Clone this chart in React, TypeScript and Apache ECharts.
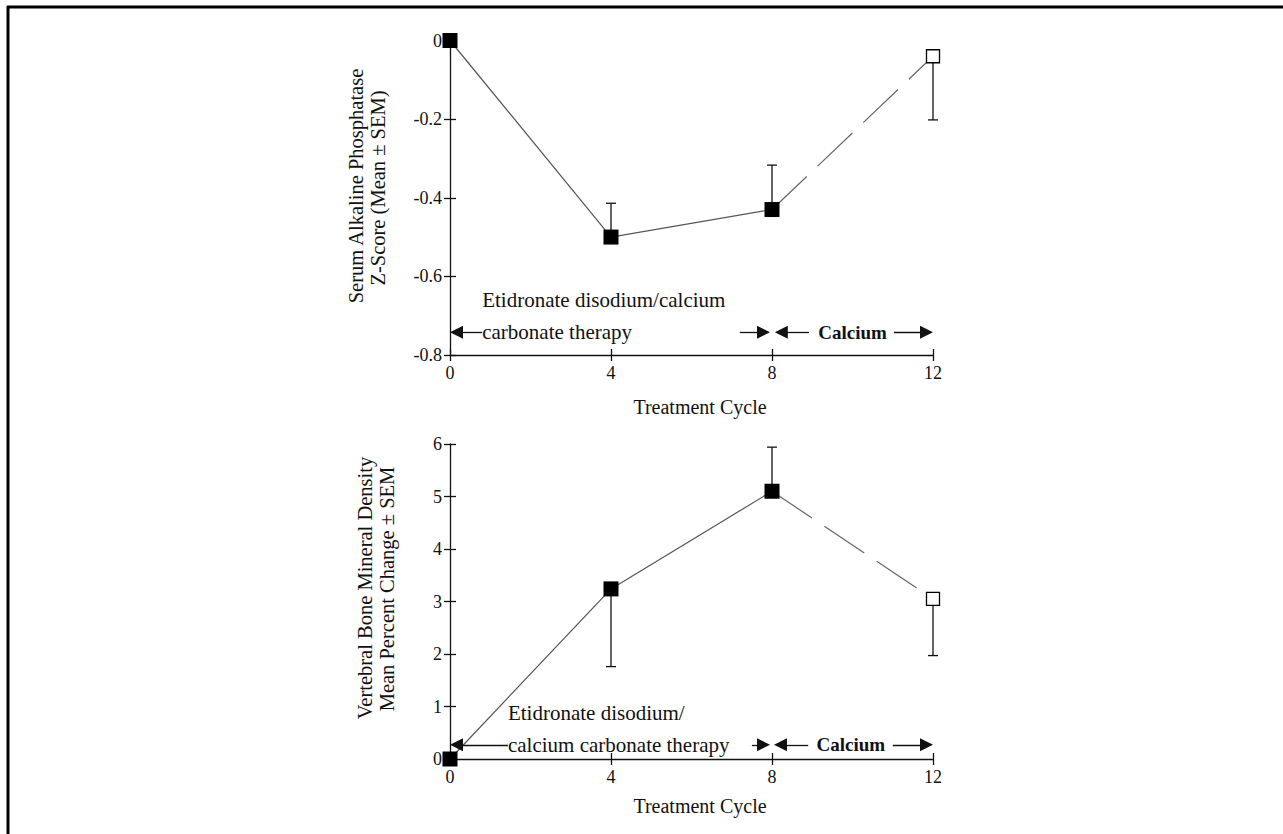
import React, { useEffect, useRef } from "react";
import * as echarts from "echarts";

// ---- data ----
const cycles = [0, 4, 8, 12];
const alpMean = [0, -0.5, -0.43, -0.04];
const alpErrEnd = [null, -0.414, -0.317, -0.202];
const bmdMean = [0, 3.24, 5.1, 3.05];
const bmdErrEnd = [null, 1.76, 5.94, 1.97];

const xTitle = "Treatment Cycle";
const alpTitle = ["Serum Alkaline Phosphatase", "Z-Score (Mean \u00b1 SEM)"];
const bmdTitle = ["Vertebral Bone Mineral Density", "Mean Percent Change \u00b1 SEM"];

// annotation arrows: [tailX, tipX] at a given y (data units)
const alpArrowY = -0.742;
const alpArrows = [[0.8, 0], [7.2, 7.95], [8.92, 8.07], [11.03, 12]];
const bmdArrowY = 0.27;
const bmdArrows = [[1.44, 0], [7.5, 7.95], [8.9, 8.05], [11.0, 12]];
const alpNotes = [
  { text: "Etidronate disodium/calcium", x: 0.8, y: -0.66, bold: false, align: "left" },
  { text: "carbonate therapy", x: 0.8, y: -0.742, bold: false, align: "left" },
  { text: "Calcium", x: 10.0, y: -0.742, bold: true, align: "center" },
];
const bmdNotes = [
  { text: "Etidronate disodium/", x: 1.44, y: 0.876, bold: false, align: "left" },
  { text: "calcium carbonate therapy", x: 1.44, y: 0.27, bold: false, align: "left" },
  { text: "Calcium", x: 9.96, y: 0.27, bold: true, align: "center" },
];

const FONT = "'Liberation Serif', 'Times New Roman', serif";
const INK = "#111";
const GRID_W = 483;
const X_SPAN = 12;
const HEAD = 13;

function xAxes(gridIndex: number) {
  const base = {
    type: "value",
    gridIndex,
    min: 0,
    max: 12,
    interval: 4,
    position: "bottom",
    splitLine: { show: false },
  };
  return [
    {
      ...base,
      axisLine: { show: true, onZero: false, lineStyle: { color: INK, width: 1.3 } },
      axisTick: { show: true, length: 6, lineStyle: { color: INK, width: 1.3 } },
      axisLabel: { color: INK, fontFamily: FONT, fontSize: 18, margin: 9 },
    },
    {
      ...base,
      axisLine: { show: false, onZero: false },
      axisTick: { show: true, inside: true, length: 6, lineStyle: { color: INK, width: 1.3 } },
      axisLabel: { show: false },
    },
  ];
}

function yAxes(gridIndex: number, min: number, max: number, interval: number) {
  const base = {
    type: "value",
    gridIndex,
    min,
    max,
    interval,
    position: "left",
    splitLine: { show: false },
  };
  return [
    {
      ...base,
      axisLine: { show: true, onZero: false, lineStyle: { color: INK, width: 1.3 } },
      axisTick: { show: true, length: 6, lineStyle: { color: INK, width: 1.3 } },
      axisLabel: { color: INK, fontFamily: FONT, fontSize: 18, margin: 8 },
    },
    {
      ...base,
      axisLine: { show: false, onZero: false },
      axisTick: { show: true, inside: true, length: 6, lineStyle: { color: INK, width: 1.3 } },
      axisLabel: { show: false },
    },
  ];
}

function seriesFor(
  xi: number,
  yi: number,
  mean: number[],
  errEnd: (number | null)[],
  arrowY: number,
  arrows: number[][]
) {
  const pts = cycles.map((c, i) => [c, mean[i]]);
  const errData = cycles
    .map((c, i) => (errEnd[i] == null ? null : [c, mean[i], errEnd[i]]))
    .filter((d) => d !== null);
  // the arrowhead symbol is centred on the line end: pull the end back by half a head
  const half = (HEAD / 2) * (X_SPAN / GRID_W);
  return [
    {
      type: "custom",
      xAxisIndex: xi,
      yAxisIndex: yi,
      clip: false,
      z: 1,
      data: errData,
      encode: { x: 0, y: [1, 2] },
      renderItem: (params: any, api: any) => {
        const x = api.value(0);
        const p0 = api.coord([x, api.value(1)]);
        const p1 = api.coord([x, api.value(2)]);
        const st = { stroke: INK, lineWidth: 1.3 };
        return {
          type: "group",
          children: [
            { type: "line", shape: { x1: p0[0], y1: p0[1], x2: p1[0], y2: p1[1] }, style: st },
            { type: "line", shape: { x1: p1[0] - 5, y1: p1[1], x2: p1[0] + 5, y2: p1[1] }, style: st },
          ],
        };
      },
    },
    {
      type: "line",
      xAxisIndex: xi,
      yAxisIndex: yi,
      clip: false,
      z: 2,
      data: pts.slice(0, 3),
      showSymbol: false,
      symbol: "none",
      lineStyle: { color: "#555", width: 1.2 },
      silent: true,
      markLine: {
        silent: true,
        symbol: ["none", "triangle"],
        symbolSize: HEAD,
        label: { show: false },
        lineStyle: { color: INK, width: 1.3, type: "solid" },
        emphasis: { disabled: true },
        data: arrows.map((a) => {
          const dir = a[1] > a[0] ? 1 : -1;
          return [
            { coord: [a[0], arrowY] },
            { coord: [a[1] - dir * half, arrowY] },
          ];
        }),
      },
    },
    {
      type: "line",
      xAxisIndex: xi,
      yAxisIndex: yi,
      clip: false,
      z: 2,
      data: pts.slice(2, 4),
      showSymbol: false,
      symbol: "none",
      lineStyle: { color: "#666", width: 1.2, type: [48, 15] },
      silent: true,
    },
    {
      type: "scatter",
      xAxisIndex: xi,
      yAxisIndex: yi,
      clip: false,
      z: 3,
      data: pts.slice(0, 3),
      symbol: "rect",
      symbolSize: 15,
      itemStyle: { color: "#000", opacity: 1 },
      silent: true,
    },
    {
      type: "scatter",
      xAxisIndex: xi,
      yAxisIndex: yi,
      clip: false,
      z: 3,
      data: pts.slice(3, 4),
      symbol: "rect",
      symbolSize: 13,
      itemStyle: { color: "#fff", borderColor: "#000", borderWidth: 1.3, opacity: 1 },
      silent: true,
    },
  ];
}

export default function App() {
  const ref = useRef<HTMLDivElement>(null);
  useEffect(() => {
    document.body.style.margin = "0";
    const chart = echarts.init(ref.current!, null, { renderer: "svg" });
    const option: any = {
      animation: false,
      backgroundColor: "#fff",
      grid: [
        { left: 450, top: 40.5, width: GRID_W, height: 314.5 },
        { left: 450, top: 444, width: GRID_W, height: 315 },
      ],
      xAxis: [...xAxes(0), ...xAxes(1)],
      yAxis: [...yAxes(0, -0.8, 0, 0.2), ...yAxes(1, 0, 6, 1)],
      series: [
        ...seriesFor(0, 0, alpMean, alpErrEnd, alpArrowY, alpArrows),
        ...seriesFor(2, 2, bmdMean, bmdErrEnd, bmdArrowY, bmdArrows),
      ],
    };
    chart.setOption(option);

    const noteEls = (notes: any[], xi: number, yi: number) =>
      notes.map((n) => {
        const p = chart.convertToPixel({ xAxisIndex: xi, yAxisIndex: yi } as any, [n.x, n.y]) as number[];
        return {
          type: "text",
          x: p[0],
          y: p[1],
          z: 10,
          style: {
            text: n.text,
            fill: INK,
            fontFamily: FONT,
            fontSize: n.bold ? 19 : 21,
            fontWeight: n.bold ? "bold" : "normal",
            textAlign: n.align,
            textVerticalAlign: "middle",
          },
        };
      });

    const vText = (text: string, x: number, y: number) => ({
      type: "text",
      x,
      y,
      rotation: Math.PI / 2,
      style: {
        text,
        fill: INK,
        fontFamily: FONT,
        fontSize: 20.5,
        textAlign: "center",
        textVerticalAlign: "middle",
      },
    });
    const hText = (text: string, x: number, y: number) => ({
      type: "text",
      x,
      y,
      style: {
        text,
        fill: INK,
        fontFamily: FONT,
        fontSize: 20,
        textAlign: "center",
        textVerticalAlign: "middle",
      },
    });

    chart.setOption({
      graphic: [
        { type: "line", shape: { x1: 7, y1: 7, x2: 1283, y2: 7 }, style: { stroke: "#000", lineWidth: 3 } },
        { type: "line", shape: { x1: 8, y1: 6, x2: 8, y2: 834 }, style: { stroke: "#000", lineWidth: 3 } },
        vText(alpTitle[0], 356, 186),
        vText(alpTitle[1], 378, 188),
        vText(bmdTitle[0], 365, 588),
        vText(bmdTitle[1], 387, 589),
        hText(xTitle, 700, 407),
        hText(xTitle, 700, 806),
        ...noteEls(alpNotes, 0, 0),
        ...noteEls(bmdNotes, 2, 2),
      ],
    });
    return () => chart.dispose();
  }, []);
  return <div ref={ref} style={{ width: 1283, height: 834 }} />;
}
